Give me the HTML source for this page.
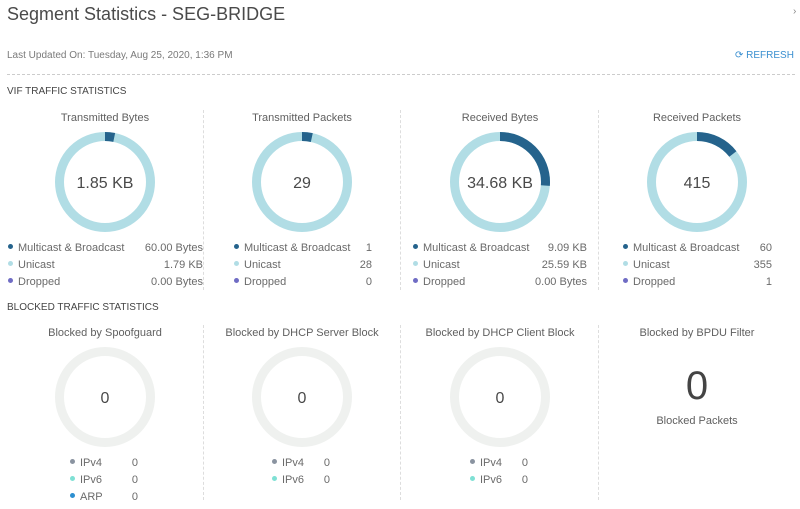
<!DOCTYPE html><html><head><style>
body{margin:0;width:800px;height:509px;background:#fff;font-family:"Liberation Sans",sans-serif;color:#565656;position:relative;overflow:hidden}
.a{position:absolute;white-space:nowrap}
.t{font-size:11px;color:#606060;text-align:center;width:200px}
.lg{font-size:11px;color:#6a6a6a}
.dot{display:inline-block;width:5px;height:5px;border-radius:50%;margin-right:5px;vertical-align:2px}
.vd{position:absolute;width:0;border-left:1px dashed #ddd}
</style></head><body>
<div class="a" style="left:7px;top:4px;font-size:18px;color:#4a4a4a">Segment Statistics - SEG-BRIDGE</div>
<div class="a" style="left:793px;top:6px;font-size:10px;color:#888">›</div>
<div class="a" style="left:7px;top:50px;font-size:10px;color:#7a7a7a">Last Updated On: Tuesday, Aug 25, 2020, 1:36 PM</div>
<div class="a" style="left:735px;top:50px;font-size:10px;color:#3a8fd0">⟳ REFRESH</div>
<div class="a" style="left:7px;top:74px;width:788px;border-top:1px dashed #ccc"></div>
<div class="a" style="left:7px;top:86px;font-size:10px;color:#444">VIF TRAFFIC STATISTICS</div>
<div class="a" style="left:7px;top:302px;font-size:10px;color:#444">BLOCKED TRAFFIC STATISTICS</div>
<div class="vd" style="left:203px;top:110px;height:180px"></div>
<div class="vd" style="left:400px;top:110px;height:180px"></div>
<div class="vd" style="left:598px;top:110px;height:180px"></div>
<div class="vd" style="left:203px;top:325px;height:175px"></div>
<div class="vd" style="left:400px;top:325px;height:175px"></div>
<div class="vd" style="left:598px;top:325px;height:175px"></div>
<div class="a t" style="left:5px;top:112px">Transmitted Bytes</div>
<div class="a t" style="left:202px;top:112px">Transmitted Packets</div>
<div class="a t" style="left:400px;top:112px">Received Bytes</div>
<div class="a t" style="left:597px;top:112px">Received Packets</div>
<svg class="a" style="left:0;top:0" width="800" height="509">
<g fill="none" stroke-width="9" transform="rotate(-90)">
<circle cx="-182" cy="105" r="45.5" stroke="#b1dde5"/>
<circle cx="-182" cy="105" r="45.5" stroke="#25638c" stroke-dasharray="9.3 300"/>
<circle cx="-182" cy="302" r="45.5" stroke="#b1dde5"/>
<circle cx="-182" cy="302" r="45.5" stroke="#25638c" stroke-dasharray="9.9 300"/>
<circle cx="-182" cy="500" r="45.5" stroke="#b1dde5"/>
<circle cx="-182" cy="500" r="45.5" stroke="#25638c" stroke-dasharray="75 300"/>
<circle cx="-182" cy="697" r="45.5" stroke="#b1dde5"/>
<circle cx="-182" cy="697" r="45.5" stroke="#25638c" stroke-dasharray="41.2 300"/>
<circle cx="-182" cy="697" r="45.5" stroke="#6f6cc4" stroke-dasharray="1.5 300" stroke-dashoffset="1.5"/>
<circle cx="-397" cy="105" r="45.5" stroke="#eff1ef"/>
<circle cx="-397" cy="302" r="45.5" stroke="#eff1ef"/>
<circle cx="-397" cy="500" r="45.5" stroke="#eff1ef"/>
</g>
<g font-family="Liberation Sans,sans-serif" font-size="16" fill="#4a4a4a" text-anchor="middle">
<text x="105" y="188">1.85 KB</text><text x="302" y="188">29</text><text x="500" y="188">34.68 KB</text><text x="697" y="188">415</text>
<text x="105" y="403">0</text><text x="302" y="403">0</text><text x="500" y="403">0</text>
</g>
</svg>
<div class="a lg" style="left:8px;top:240px;line-height:17px;width:195px">
<div><span class="dot" style="background:#25638c"></span>Multicast &amp; Broadcast<span style="float:right">60.00 Bytes</span></div>
<div><span class="dot" style="background:#b1dde5"></span>Unicast<span style="float:right">1.79 KB</span></div>
<div><span class="dot" style="background:#6f6cc4"></span>Dropped<span style="float:right">0.00 Bytes</span></div></div>
<div class="a lg" style="left:234px;top:240px;line-height:17px;width:138px">
<div><span class="dot" style="background:#25638c"></span>Multicast &amp; Broadcast<span style="float:right">1</span></div>
<div><span class="dot" style="background:#b1dde5"></span>Unicast<span style="float:right">28</span></div>
<div><span class="dot" style="background:#6f6cc4"></span>Dropped<span style="float:right">0</span></div></div>
<div class="a lg" style="left:413px;top:240px;line-height:17px;width:174px">
<div><span class="dot" style="background:#25638c"></span>Multicast &amp; Broadcast<span style="float:right">9.09 KB</span></div>
<div><span class="dot" style="background:#b1dde5"></span>Unicast<span style="float:right">25.59 KB</span></div>
<div><span class="dot" style="background:#6f6cc4"></span>Dropped<span style="float:right">0.00 Bytes</span></div></div>
<div class="a lg" style="left:623px;top:240px;line-height:17px;width:149px">
<div><span class="dot" style="background:#25638c"></span>Multicast &amp; Broadcast<span style="float:right">60</span></div>
<div><span class="dot" style="background:#b1dde5"></span>Unicast<span style="float:right">355</span></div>
<div><span class="dot" style="background:#6f6cc4"></span>Dropped<span style="float:right">1</span></div></div>
<div class="a t" style="left:5px;top:327px">Blocked by Spoofguard</div>
<div class="a t" style="left:202px;top:327px">Blocked by DHCP Server Block</div>
<div class="a t" style="left:400px;top:327px">Blocked by DHCP Client Block</div>
<div class="a t" style="left:597px;top:327px">Blocked by BPDU Filter</div>
<div class="a" style="left:597px;top:364px;width:200px;text-align:center;font-size:40px;color:#444">0</div>
<div class="a t" style="left:597px;top:415px">Blocked Packets</div>
<div class="a lg" style="left:70px;top:455px;line-height:17px;width:68px">
<div><span class="dot" style="background:#8a93a0"></span>IPv4<span style="float:right">0</span></div>
<div><span class="dot" style="background:#7fe0d4"></span>IPv6<span style="float:right">0</span></div>
<div><span class="dot" style="background:#2d8fd0"></span>ARP<span style="float:right">0</span></div></div>
<div class="a lg" style="left:272px;top:455px;line-height:17px;width:58px">
<div><span class="dot" style="background:#8a93a0"></span>IPv4<span style="float:right">0</span></div>
<div><span class="dot" style="background:#7fe0d4"></span>IPv6<span style="float:right">0</span></div></div>
<div class="a lg" style="left:470px;top:455px;line-height:17px;width:58px">
<div><span class="dot" style="background:#8a93a0"></span>IPv4<span style="float:right">0</span></div>
<div><span class="dot" style="background:#7fe0d4"></span>IPv6<span style="float:right">0</span></div></div>
</body></html>
